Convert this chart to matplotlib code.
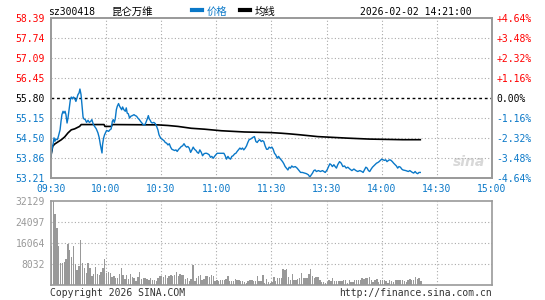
import matplotlib.pyplot as plt
import numpy as np

plt.rcParams['font.family'] = ['DejaVu Sans Mono', 'Noto Sans CJK SC']

# minute offsets from 09:30 (afternoon continues after 120 = 11:30/13:00)
price_min = [0, 0.7, 1.4, 1.8, 2.3, 2.9, 3.6, 4.1, 4.7, 5.1, 5.6, 6.1, 6.7, 7.2, 7.8, 8.3, 8.9, 9.4,
             10.1, 10.7, 11.2, 11.8, 12.3, 13.0, 13.7, 14.3, 14.8, 15.4, 15.9, 16.5, 17.0, 17.6,
             18.1, 18.8, 19.5, 20.3, 21.0, 21.7, 22.4, 23.2, 23.9, 24.8, 25.7, 26.4, 27.0, 27.5,
             27.9, 28.2, 28.8, 29.3, 29.9, 30.4, 31.5, 32.2, 32.9, 33.5, 34.0, 34.6, 35.1, 35.7,
             36.2, 36.9, 37.5, 38.0, 38.6, 39.1, 39.8, 40.6, 41.1, 41.6, 42.2, 42.9, 43.6, 44.4,
             45.3, 46.0, 46.7, 47.4, 48.2, 48.9, 49.6, 50.3, 51.1, 51.8, 52.5, 53.1, 53.6, 54.1,
             54.7, 55.2, 56.1, 56.9, 57.6, 58.3, 58.9,
             59.8, 60.9, 61.6, 62.3, 63.0, 63.8, 64.5, 65.2, 65.9, 66.7, 67.4, 68.1, 68.8, 69.6,
             70.3, 71.0, 71.7, 72.5, 73.2, 73.9, 74.6, 75.3, 76.1, 76.8, 77.5, 78.2, 79.0, 79.7,
             80.4, 81.1, 81.9, 82.6, 83.3, 84.0, 84.8, 85.5, 86.2, 86.9, 87.6, 88.4, 89.1, 89.8,
             90.5, 92.0, 93.4, 94.2, 94.9, 95.6, 96.4, 97.1, 97.8, 98.5, 99.2, 100.0, 100.7,
             101.4, 102.1, 102.9, 103.6, 104.3, 105.0, 105.8, 106.5, 107.2, 107.9, 108.7, 109.4,
             110.1, 110.8, 111.6, 112.3, 113.0, 113.7, 114.5, 115.2, 115.9, 116.6, 117.4, 118.1,
             118.8, 119.5, 120.3, 121.0, 121.7, 122.4, 123.2, 123.9, 124.6, 125.3, 126.1, 126.8,
             127.5, 128.2, 129.0, 129.7,
             130.4, 131.1, 131.9, 133.0, 134.0, 135.1, 135.9, 136.9, 138.0, 139.1, 140.2, 140.9,
             141.7, 142.4, 143.1, 143.8, 144.5, 145.6, 146.7, 147.8, 148.5, 149.3, 150.3, 151.1,
             151.8, 152.5, 153.2, 154.0, 154.7, 155.4, 156.1, 157.1, 158.0, 158.9, 159.8, 160.7,
             161.6, 162.7, 163.8, 164.9, 166.0, 167.0, 168.1, 169.2, 169.9, 170.6, 171.4, 172.1,
             172.8, 173.5, 174.3, 175.0, 175.7, 176.4, 177.2, 177.9, 178.6, 179.3, 180.0, 180.8,
             181.5, 182.2, 182.9, 183.7, 184.4, 185.1, 185.8, 186.5, 187.3, 188.0, 188.7, 189.4,
             190.2, 190.9, 191.6, 193.1, 194.5, 195.3, 196.0, 196.7, 197.4, 198.2, 198.9, 199.6,
             200.3, 201.0]
price = [53.89, 54.13, 54.34, 54.51, 54.40, 54.47, 54.45, 54.54, 54.67, 54.77, 55.04, 55.26, 55.37,
         55.31, 55.37, 55.26, 54.99, 55.15, 55.48, 55.75, 55.83, 55.77, 55.83, 55.80, 55.69, 55.80,
         55.91, 55.96, 56.09, 55.91, 55.58, 55.18, 55.12, 55.10, 55.01, 55.08, 55.01, 55.04, 55.10,
         54.94, 54.88, 54.80, 54.67, 54.51, 54.29, 54.13, 54.02, 54.29, 54.51, 54.61, 54.69, 54.75,
         54.72, 54.77, 54.80, 55.04, 55.10, 55.01, 55.12, 55.42, 55.53, 55.62, 55.53, 55.48, 55.42,
         55.51, 55.42, 55.37, 55.48, 55.31, 55.29, 55.15, 55.21, 55.23, 55.26, 55.23, 55.21, 55.15,
         55.10, 55.04, 54.99, 54.94, 54.92, 55.01, 55.12, 55.23, 55.12, 55.08, 55.01, 54.99, 55.01,
         54.97, 54.88, 54.77, 54.61,
         54.50, 54.45, 54.42, 54.36, 54.34, 54.28, 54.32, 54.21, 54.14, 54.12, 54.10, 54.12, 54.07,
         54.14, 54.18, 54.23, 54.25, 54.32, 54.25, 54.21, 54.23, 54.18, 54.04, 54.12, 54.21, 54.14,
         54.10, 54.04, 54.01, 54.12, 54.04, 53.93, 53.99, 54.01, 54.01, 53.99, 53.96, 53.88, 53.91,
         53.85, 53.91, 53.96, 54.01, 54.01, 54.01, 54.01, 53.93, 53.82, 53.91, 53.85, 53.82, 53.91,
         53.93, 53.99, 54.01, 54.07, 54.12, 54.18, 54.14, 54.18, 54.12, 54.18, 54.25, 54.36, 54.45,
         54.47, 54.50, 54.53, 54.55, 54.39, 54.36, 54.42, 54.45, 54.39, 54.42, 54.39, 54.25, 54.14,
         54.14, 54.21, 54.18, 54.21, 54.14, 54.01, 53.96, 53.85, 53.91, 53.85, 53.80, 53.74, 53.67,
         53.58, 53.53, 53.47, 53.56,
         53.53, 53.60, 53.56, 53.58, 53.53, 53.45, 53.39, 53.39, 53.37, 53.35, 53.31, 53.24, 53.31,
         53.37, 53.45, 53.47, 53.42, 53.45, 53.42, 53.45, 53.42, 53.39, 53.47, 53.58, 53.67, 53.64,
         53.58, 53.64, 53.58, 53.53, 53.64, 53.74, 53.69, 53.58, 53.60, 53.53, 53.56, 53.50, 53.45,
         53.50, 53.45, 53.42, 53.45, 53.42, 53.39, 53.47, 53.56, 53.53, 53.45, 53.42, 53.50, 53.56,
         53.60, 53.64, 53.69, 53.71, 53.74, 53.78, 53.82, 53.80, 53.78, 53.80, 53.74, 53.78, 53.80,
         53.78, 53.74, 53.69, 53.64, 53.60, 53.53, 53.58, 53.56, 53.50, 53.47, 53.45, 53.42, 53.45,
         53.42, 53.39, 53.37, 53.42, 53.37, 53.35, 53.39, 53.39]

avg_min = [0, 1.1, 2.2, 4.0, 5.8, 7.6, 9.4, 11.2, 13.0, 15.7, 16.6, 29.0, 29.5, 33.0, 33.5, 58.3,
           63.8, 69.2, 76.4, 83.7, 92.7, 105.4, 119.8, 125.3, 129.7, 135.3, 145.3, 161.6, 173.3,
           191.5, 201.0]
avg_price = [53.89, 54.24, 54.31, 54.38, 54.45, 54.54, 54.67, 54.77, 54.80, 54.88, 54.94, 54.94,
             54.88, 54.88, 54.94, 54.93, 54.91, 54.88, 54.82, 54.79, 54.74, 54.70, 54.68, 54.66,
             54.64, 54.61, 54.55, 54.50, 54.47, 54.45, 54.45]

volume = [14900, 32129, 27000, 21900, 14900, 8540, 8540, 8900, 10070, 15800, 13260, 10840, 14900,
          8160, 5990, 7270, 17080, 8540, 6630, 4720, 8540, 6630, 3700, 4330, 7010, 4330, 4080,
          5100, 6630, 9820, 4720, 4970, 4590, 3190, 3700, 2800, 2800, 4330, 6630, 4080, 2420,
          4080, 2420, 4330, 3190, 2800, 1790, 3320, 5100, 2550, 2800, 2800, 2420, 1910, 2800,
          2170, 2170, 1790, 2800, 3440, 3440, 3190, 4080, 2800, 3700, 3830, 3440, 4080, 5100,
          3440, 4330, 3830, 4080, 2550, 2800, 1790, 2420, 7520, 1790, 2800, 3440, 3830, 2170,
          2550, 3700, 3440, 3190, 3830, 3700, 1530, 2170, 1530, 2170, 1910, 2170, 2420, 3440,
          1530, 1530, 1530, 2420, 2170, 1910,
          1550, 1550, 1300, 1040, 1810, 1940, 1940, 1550, 1550, 3500, 1550, 1550, 3890, 1040,
          2330, 1300, 1040, 1300, 3240, 1550, 2850, 2590, 2590, 6220, 5830, 6220, 3240, 1940,
          4270, 1940, 1940, 2330, 2850, 4530, 2850, 2850, 2590, 4140, 6220, 3630, 2850, 3240,
          3240, 1940, 1300, 1300, 1040, 1300, 1940, 1550, 2590, 1550, 1550, 1550, 1550, 1550,
          1940, 2200, 1040, 2200, 1300, 1300, 1940, 1940, 1940, 1940, 2850, 2330, 2590, 2590,
          3240, 1940, 1300, 2200, 2330, 1300, 1940, 2200, 2200, 1550, 1040, 1940, 1550, 1300,
          1940, 1940, 2200, 1940, 1940, 1550, 1300, 1940, 2330, 2200, 1940, 3240, 2330, 2590,
          1550]

pre_close = 55.80
price_ticks = [53.21, 53.86, 54.50, 55.15, 55.80, 56.45, 57.09, 57.74, 58.39]
pct_labels = ['-4.64%', '-3.48%', '-2.32%', '-1.16%', '0.00%',
              '+1.16%', '+2.32%', '+3.48%', '+4.64%']
time_labels = ['09:30', '10:00', '10:30', '11:00', '11:30', '13:30', '14:00', '14:30', '15:00']
time_pos = [0, 30, 60, 90, 120, 150, 180, 210, 240]
vol_ticks = [8032, 16064, 24097, 32129]

blue = '#0a78c8'
red = '#ff0000'
gray = '#999999'

fig = plt.figure(figsize=(5.45, 3.0), dpi=100)
ax = fig.add_axes([50.7 / 545, 122 / 300, 441.3 / 545, 160 / 300])
axv = fig.add_axes([50.7 / 545, 14.7 / 300, 441.3 / 545, 84.6 / 300])

# price panel
ax.set_xlim(0, 240)
ax.set_ylim(price_ticks[0], price_ticks[-1])
for p in price_ticks[1:-1]:
    if p == pre_close:
        ax.axhline(p, color='black', lw=1, ls=(0, (2, 2)), zorder=1)
    else:
        ax.axhline(p, color='#aaaaaa', lw=0.8, ls=(0, (1, 2)), zorder=1)
for t in time_pos[1:-1]:
    ax.axvline(t, color='#aaaaaa', lw=0.8, ls=(0, (1, 2)), zorder=1)
ax.plot(avg_min, avg_price, color='black', lw=1.2, zorder=3)
ax.plot(price_min, price, color=blue, lw=1.0, zorder=4)

ax.set_yticks(price_ticks)
ax.set_yticklabels([f'{p:.2f}' for p in price_ticks], fontsize=7)
ax.tick_params(axis='y', length=0, pad=4)
for lab, p in zip(ax.get_yticklabels(), price_ticks):
    lab.set_color(red if p > pre_close else ('black' if p == pre_close else blue))
ax2 = ax.twinx()
ax2.set_ylim(ax.get_ylim())
ax2.set_yticks(price_ticks)
ax2.set_yticklabels(pct_labels, fontsize=7)
ax2.tick_params(axis='y', length=0, pad=3)
for lab, p in zip(ax2.get_yticklabels(), price_ticks):
    lab.set_color(red if p > pre_close else ('black' if p == pre_close else blue))

ax.set_xticks(time_pos)
ax.set_xticklabels(time_labels, fontsize=7, color=blue)
ax.tick_params(axis='x', length=0, pad=4)
for a in (ax, ax2):
    for s in a.spines.values():
        s.set_color(gray)
        s.set_linewidth(1.2)

ax.text(0.985, 0.1, 'sina', transform=ax.transAxes, ha='right', va='center',
        fontsize=10, style='italic', fontweight='bold', color='#d8d8d8',
        family='DejaVu Sans', zorder=0)

# volume panel
axv.set_xlim(0, 240)
axv.set_ylim(0, vol_ticks[-1])
for v in vol_ticks[:-1]:
    axv.axhline(v, color='#aaaaaa', lw=0.8, ls=(0, (1, 2)), zorder=1)
for t in time_pos[1:-1]:
    axv.axvline(t, color='#aaaaaa', lw=0.8, ls=(0, (1, 2)), zorder=1)
axv.bar(np.arange(len(volume)), volume, width=0.75, align='edge', color=gray,
        linewidth=0, zorder=2)
axv.set_xticks([])
axv.set_yticks(vol_ticks)
axv.set_yticklabels([str(v) for v in vol_ticks], fontsize=7, color=gray)
axv.tick_params(axis='y', length=0, pad=4)
for s in axv.spines.values():
    s.set_color(gray)
    s.set_linewidth(1.2)

# header
fig.text(48 / 545, 1 - 12 / 300, 'sz300418', fontsize=7, va='center')
fig.text(112 / 545, 1 - 12 / 300, '昆仑万维', fontsize=7.5, va='center')
fig.add_artist(plt.Line2D([192 / 545, 202 / 545], [1 - 10 / 300] * 2, color=blue, lw=3))
fig.text(207 / 545, 1 - 12 / 300, '价格', fontsize=7.5, va='center', color=blue)
fig.add_artist(plt.Line2D([240 / 545, 250 / 545], [1 - 10 / 300] * 2, color='black', lw=3))
fig.text(255 / 545, 1 - 12 / 300, '均线', fontsize=7.5, va='center')
fig.text(472 / 545, 1 - 12 / 300, '2026-02-02 14:21:00', fontsize=7, va='center', ha='right')

# footer
fig.text(50 / 545, 1 - 293 / 300, 'Copyright 2026 SINA.COM', fontsize=7, va='center',
         color='#333333')
fig.text(492 / 545, 1 - 293 / 300, 'http://finance.sina.com.cn', fontsize=7, va='center',
         ha='right', color='#333333')

fig.savefig('out.png', dpi=100)
